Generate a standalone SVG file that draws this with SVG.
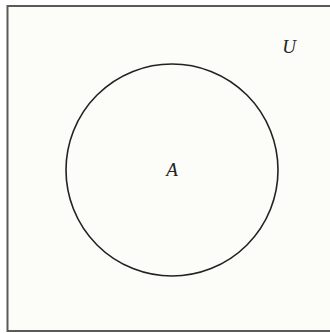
<svg xmlns="http://www.w3.org/2000/svg" width="330" height="333" viewBox="0 0 330 333">
<style>
.lbl{font-family:"Liberation Serif","Times New Roman",serif;font-style:italic;font-size:19px;fill:#222;text-anchor:middle}
</style>
<rect x="0" y="0" width="330" height="333" fill="#ffffff"/>
<g id="universe">
<rect x="7.5" y="6" width="330" height="325" fill="#fcfcf9" stroke="#5a5a5a" stroke-width="2"/>
<text class="lbl" x="289" y="53">U</text>
</g>
<g id="setA">
<circle cx="172" cy="170" r="106" fill="none" stroke="#222" stroke-width="1.6"/>
<text class="lbl" x="172" y="176">A</text>
</g>
<g id="connectors"/>
</svg>
